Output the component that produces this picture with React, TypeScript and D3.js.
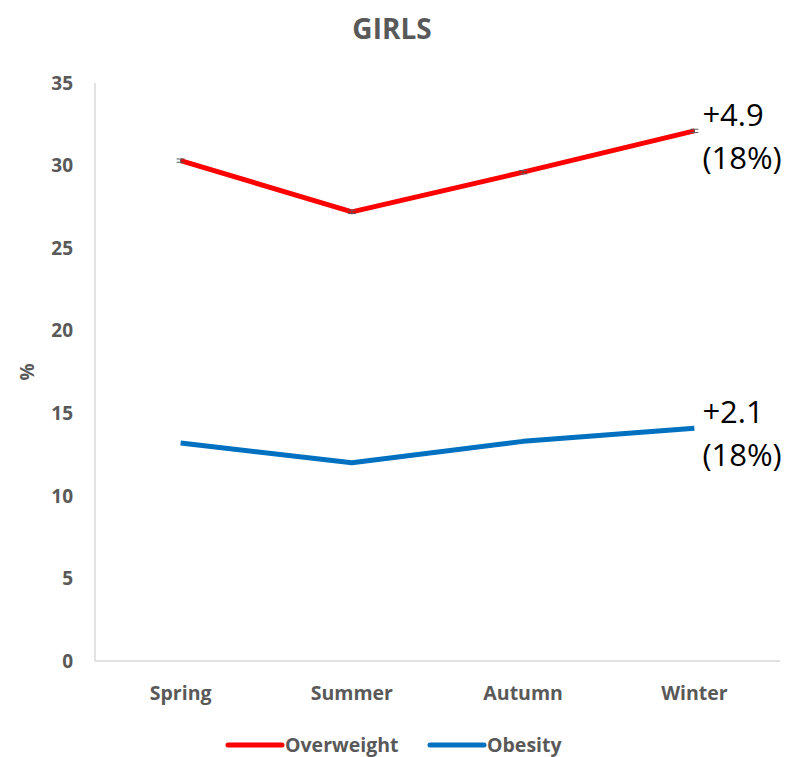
import React from "react";
import * as d3 from "d3";

const width = 792;
const height = 757;

const seasons = ["Spring", "Summer", "Autumn", "Winter"];
const overweight = [30.3, 27.2, 29.6, 32.1];
const obesity = [13.2, 12.0, 13.3, 14.1];
const overweightErr = [0.1, 0.1, 0.1, 0.1];
const yTicks = [0, 5, 10, 15, 20, 25, 30, 35];
const notes = [
  { value: 32.1, lines: ["+4.9", "(18%)"] },
  { value: 14.1, lines: ["+2.1", "(18%)"] }
];

const font = "'Open Sans', 'Liberation Sans', sans-serif";
const grey = "#595959";

const margin = { left: 95, right: 12, top: 83, bottom: 96 };

export default function App() {
  const x = d3
    .scaleBand()
    .domain(seasons)
    .range([margin.left, width - margin.right]);

  const y = d3
    .scaleLinear()
    .domain([0, 35])
    .range([height - margin.bottom, margin.top]);

  const cx = (s) => x(s) + x.bandwidth() / 2;

  const line = d3
    .line()
    .x((d, i) => cx(seasons[i]))
    .y((d) => y(d));

  const series = [
    { name: "Overweight", values: overweight, color: "#ff0000" },
    { name: "Obesity", values: obesity, color: "#0070c0" }
  ];

  const lastX = cx(seasons[seasons.length - 1]);

  return (
    <svg width={width} height={height} style={{ position: "absolute", left: 0, top: 0 }}>
      <text x={392} y={39} textAnchor="middle" fontFamily={font} fontWeight="bold" fontSize={28} fill={grey}>
        GIRLS
      </text>

      {/* axes */}
      <line x1={margin.left} x2={margin.left} y1={y(35)} y2={y(0)} stroke="#d9d9d9" strokeWidth={1.5} />
      <line x1={margin.left} x2={width - margin.right} y1={y(0)} y2={y(0)} stroke="#d9d9d9" strokeWidth={1.5} />

      {yTicks.map((t) => (
        <text key={t} x={73} y={y(t)} dy="0.35em" textAnchor="end" fontFamily={font} fontWeight="bold" fontSize={19} fill={grey}>
          {t}
        </text>
      ))}

      {seasons.map((s) => (
        <text key={s} x={cx(s)} y={700} textAnchor="middle" fontFamily={font} fontWeight="bold" fontSize={19.5} fill={grey}>
          {s}
        </text>
      ))}

      <text transform={`translate(34,${y(17.5)}) rotate(-90)`} textAnchor="middle" fontFamily={font} fontWeight="bold" fontSize={19} fill={grey}>
        %
      </text>

      {series.map((s) => (
        <path key={s.name} d={line(s.values)} fill="none" stroke={s.color} strokeWidth={5} strokeLinejoin="round" />
      ))}

      {overweight.map((v, i) => {
        const px = cx(seasons[i]);
        return (
          <g key={i} stroke="#595959" strokeWidth={1}>
            <line x1={px} x2={px} y1={y(v + overweightErr[i])} y2={y(v - overweightErr[i])} />
            <line x1={px - 4} x2={px + 4} y1={y(v + overweightErr[i])} y2={y(v + overweightErr[i])} />
            <line x1={px - 4} x2={px + 4} y1={y(v - overweightErr[i])} y2={y(v - overweightErr[i])} />
          </g>
        );
      })}

      {notes.map((n, i) => (
        <text key={i} fontFamily={font} fontSize={31} fill="#000">
          <tspan x={lastX + 8} y={y(n.value) - 5}>{n.lines[0]}</tspan>
          <tspan x={lastX + 8} y={y(n.value) + 38}>{n.lines[1]}</tspan>
        </text>
      ))}

      {/* legend */}
      {series.map((s, i) => {
        const lx = i === 0 ? 228 : 430;
        return (
          <g key={s.name}>
            <line x1={lx} x2={lx + 54} y1={745} y2={745} stroke={s.color} strokeWidth={5} strokeLinecap="round" />
            <text x={lx + 57} y={745} dy="0.35em" fontFamily={font} fontWeight="bold" fontSize={19.5} fill={grey}>
              {s.name}
            </text>
          </g>
        );
      })}
    </svg>
  );
}
